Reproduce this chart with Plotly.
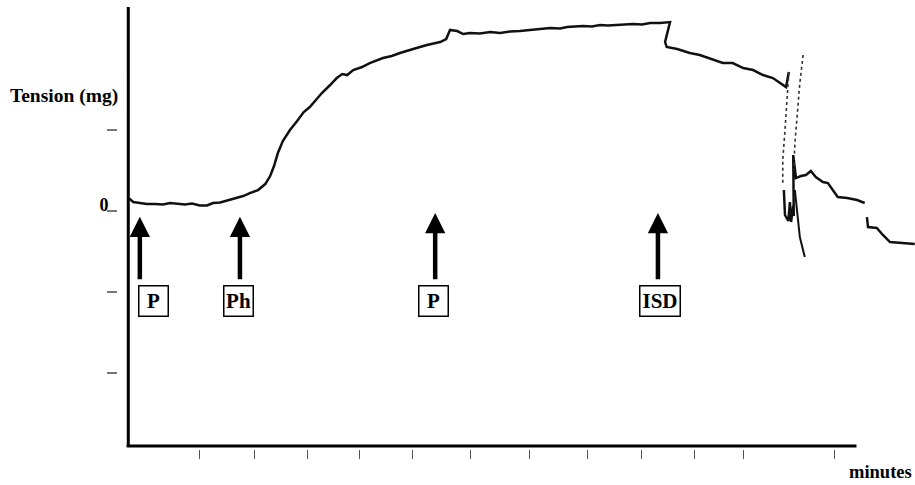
import plotly.graph_objects as go

# Tension trace (minutes, mg) recorded on the chart recorder
time_min = [0.01, 0.09, 0.21, 0.34, 0.49, 0.63, 0.76, 0.90, 1.03, 1.16, 1.30, 1.43, 1.54, 1.67,
            1.81, 1.94, 2.09, 2.21, 2.36, 2.49, 2.58, 2.65, 2.72, 2.81, 2.94, 3.07, 3.19, 3.30,
            3.41, 3.52, 3.67, 3.79, 3.89, 3.98, 4.09, 4.25, 4.39, 4.63, 4.79, 4.94, 5.18, 5.30,
            5.43, 5.67, 5.78, 5.85, 5.98, 6.09, 6.21, 6.39, 6.58, 6.76, 6.94, 7.12, 7.36, 7.52,
            7.67, 7.85, 7.98, 8.12, 8.27, 8.43, 8.58, 8.72, 8.89, 9.03, 9.18, 9.34, 9.49, 9.67,
            9.85, 9.76, 9.79, 9.98, 10.21, 10.39, 10.58, 10.81, 10.99, 11.18, 11.36, 11.54,
            11.72, 11.85, 11.96, 12.01]
tension_mg = [16.0, 11.1, 9.9, 8.6, 8.6, 8.0, 9.9, 8.6, 8.0, 9.3, 6.8, 6.8, 9.9, 10.5,
              13.0, 15.4, 18.5, 22.2, 25.9, 33.3, 43.2, 55.6, 71.6, 86.4, 100.0, 111.1, 122.2, 128.4,
              137.0, 145.7, 155.6, 164.2, 169.1, 167.9, 174.1, 177.8, 182.7, 188.9, 191.4, 195.1, 200.0, 202.5,
              204.9, 208.6, 212.3, 223.5, 222.2, 218.5, 219.8, 219.1, 221.0, 219.8, 221.6, 222.2, 223.5, 224.7,
              225.9, 225.3, 227.2, 227.8, 228.4, 227.8, 229.6, 229.0, 229.6, 230.3, 230.9, 230.3, 232.1, 232.1,
              233.3, 208.6, 202.5, 200.0, 195.1, 192.6, 187.7, 182.7, 182.7, 176.5, 174.1, 167.9,
              164.2, 158.0, 153.1, 171.6]

# Fast pen swing after ISD (faint part)
swing_min = [12.01, 11.98, 11.94, 11.90, 11.90]
swing_mg = [171.6, 137.0, 100.0, 63.0, 32.1]

# Trace after the pen swing, with the break in the paper
late_min = [11.92, 11.94, 12.00, 12.03, 12.05, 12.09, 12.10, 12.09, 12.14, 12.23, 12.32, 12.41,
            12.50, 12.63, 12.72, 12.81, 12.90, 13.07, 13.25, 13.39, None,
            13.43, 13.45, 13.61, 13.72, 13.85, 14.03, 14.18, 14.30]
late_mg = [25.9, -4.9, -12.3, 11.1, -13.6, 6.2, -6.2, 69.1, 40.7, 43.2, 44.4, 49.4,
           42.0, 35.8, 34.6, 25.9, 17.3, 16.0, 13.6, 9.9, None,
           -7.4, -19.8, -21.0, -29.6, -38.3, -39.5, -40.7, -40.7]

# Return arc of the pen
arc_top_min = [12.27, 12.21, 12.16, 12.12, 12.10]
arc_top_mg = [192.6, 158.0, 116.0, 84.0, 50.6]
arc_low_min = [12.12, 12.16, 12.21, 12.30]
arc_low_mg = [25.9, 1.2, -32.1, -56.8]

# Drug additions
event_min = [0.21, 2.03, 5.58, 9.63]
event_label = ["P", "Ph", "P", "ISD"]
label_min = [0.46, 2.01, 5.55, 9.67]
arrow_tip_mg = [-7, -7, -2.5, -2.5]
arrow_tail_mg = -86
label_mg = -111

minute_marks = [1.29, 2.30, 3.26, 4.20, 5.17, 6.23, 7.29, 8.35, 9.34, 10.30, 11.19, 12.84]
tension_ticks = [-200, -100, 0, 100]
tension_tick_text = ["", "", "0", ""]
x_axis_end = 13.24

SERIF = "Liberation Serif"

fig = go.Figure()
fig.add_trace(go.Scatter(x=time_min, y=tension_mg, mode="lines",
                         line=dict(color="#111", width=2.5), hoverinfo="skip"))
fig.add_trace(go.Scatter(x=swing_min, y=swing_mg, mode="lines",
                         line=dict(color="#333", width=1.6, dash="dot"), hoverinfo="skip"))
fig.add_trace(go.Scatter(x=late_min, y=late_mg, mode="lines", connectgaps=False,
                         line=dict(color="#111", width=2.5), hoverinfo="skip"))
fig.add_trace(go.Scatter(x=arc_top_min, y=arc_top_mg, mode="lines",
                         line=dict(color="#333", width=1.6, dash="dot"), hoverinfo="skip"))
fig.add_trace(go.Scatter(x=arc_low_min, y=arc_low_mg, mode="lines",
                         line=dict(color="#111", width=2), hoverinfo="skip"))

annotations = []
for t, tip, lx, lab in zip(event_min, arrow_tip_mg, label_min, event_label):
    annotations.append(dict(x=t, y=tip, ax=t, ay=arrow_tail_mg, xref="x", yref="y",
                            axref="x", ayref="y", text="", showarrow=True,
                            arrowhead=2, arrowwidth=4.5, arrowsize=0.9, arrowcolor="black",
                            standoff=0, startstandoff=0))
    annotations.append(dict(x=lx, y=label_mg, xref="x", yref="y", text=lab, showarrow=False,
                            bordercolor="black", borderwidth=1.5, borderpad=0,
                            width=39 if len(lab) > 2 else 28, height=29, bgcolor="white",
                            font=dict(family=SERIF, size=21, color="black", weight="bold")))

annotations.append(dict(x=-0.1366, y=142, xref="paper", yref="y", xanchor="left",
                        yanchor="middle", text="Tension (mg)", showarrow=False,
                        font=dict(family=SERIF, size=19.5, color="black", weight="bold")))
annotations.append(dict(x=0.9985, y=-0.052, xref="paper", yref="paper", xanchor="right",
                        yanchor="middle", text="minutes", showarrow=False,
                        font=dict(family=SERIF, size=18.5, color="black", weight="bold")))

shapes = [
    dict(type="line", xref="x", yref="y domain", x0=0, x1=0, y0=0.0068, y1=1,
         line=dict(color="black", width=3)),
    dict(type="line", xref="x", yref="y domain", x0=-0.03, x1=x_axis_end, y0=0.0068, y1=0.0068,
         line=dict(color="black", width=3)),
]

fig.update_layout(
    width=915, height=485,
    margin=dict(l=117, r=0, t=7, b=36),
    paper_bgcolor="white", plot_bgcolor="white",
    showlegend=False,
    annotations=annotations,
    shapes=shapes,
    xaxis=dict(domain=[0.01, 1], range=[-0.06, 14.304], showgrid=False, zeroline=False,
               showline=False, ticks="outside", tickvals=minute_marks, showticklabels=False,
               ticklen=9, tickwidth=1.3, tickcolor="#555"),
    yaxis=dict(anchor="free", position=0, range=[-293.8, 251.9], showgrid=False,
               zeroline=False, showline=False, ticks="outside", tickvals=tension_ticks,
               ticktext=tension_tick_text, ticklen=10, tickwidth=1.5, tickcolor="#777",
               ticklabelshift=-6, ticklabelstandoff=-5,
               tickfont=dict(family=SERIF, size=18, color="black", weight="bold")),
)

fig.write_html("out.html")
